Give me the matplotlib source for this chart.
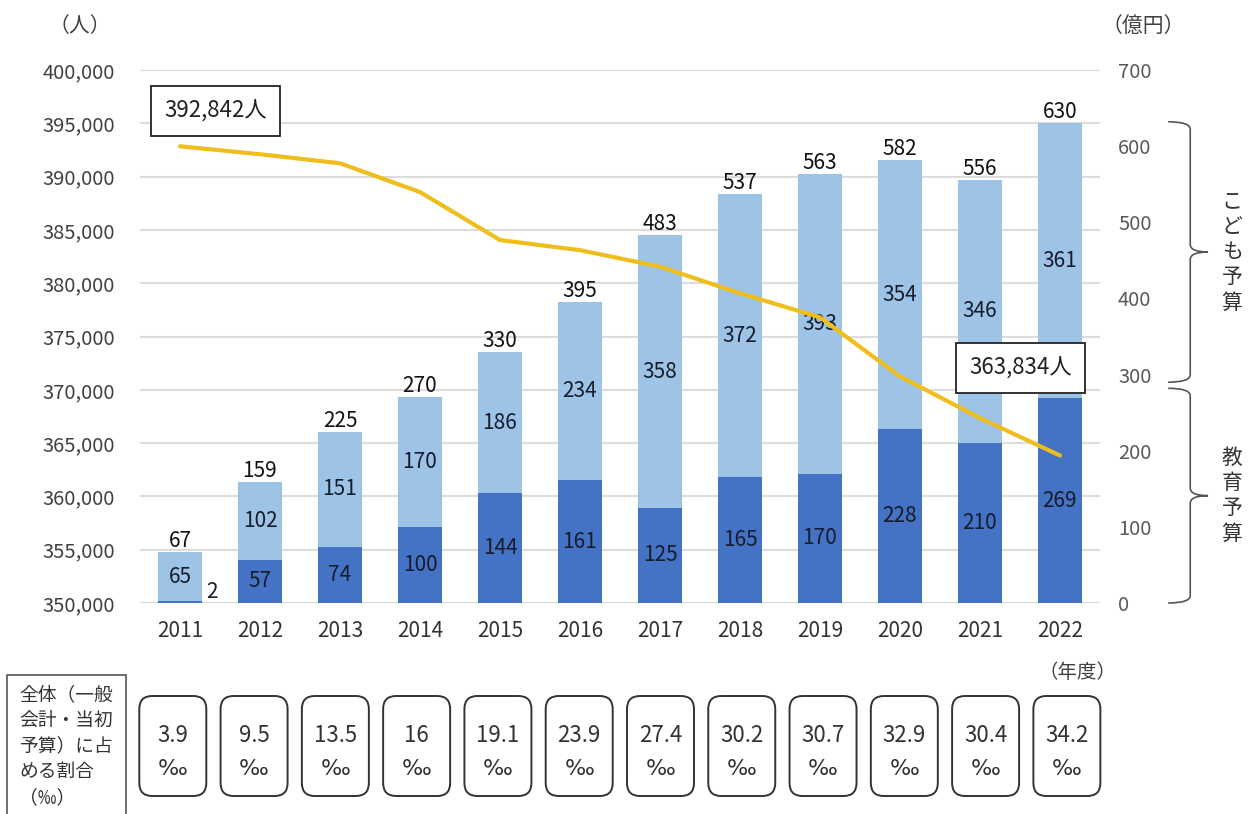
import matplotlib
matplotlib.use("Agg")
import matplotlib.pyplot as plt
from matplotlib.patches import FancyBboxPatch, Rectangle, PathPatch
from matplotlib.path import Path
from matplotlib.transforms import blended_transform_factory

plt.rcParams['font.family'] = ['Noto Sans CJK JP', 'DejaVu Sans']

# data (億円 / 人 / ‰)
years = ['2011', '2012', '2013', '2014', '2015', '2016',
         '2017', '2018', '2019', '2020', '2021', '2022']
education_budget = [2, 57, 74, 100, 144, 161, 125, 165, 170, 228, 210, 269]
children_budget = [65, 102, 151, 170, 186, 234, 358, 372, 393, 354, 346, 361]
total_budget = [67, 159, 225, 270, 330, 395, 483, 537, 563, 582, 556, 630]
children_count = [392842, 392100, 391250, 388550, 384050, 383100,
                  381550, 379050, 376800, 371250, 367350, 363834]
share_permil = ['3.9', '9.5', '13.5', '16', '19.1', '23.9',
                '27.4', '30.2', '30.7', '32.9', '30.4', '34.2']

LIGHT = '#9DC3E6'
DARK = '#4472C4'
GOLD = '#EFBE1C'
GRID = '#DCDCDC'

fig = plt.figure(figsize=(12.5, 8.14), dpi=100)
ax = fig.add_axes([0.112, 0.2592, 0.768, 0.6548])
ax2 = ax.twinx()
ax3 = ax.twinx()

x = list(range(len(years)))

# left axis: population grid
ax.set_xlim(-0.5, 11.5)
ax.set_ylim(350000, 400000)
ax.set_yticks(range(350000, 400001, 5000))
ax.set_yticklabels([f'{v:,}' for v in range(350000, 400001, 5000)])
ax.yaxis.grid(True, color=GRID, lw=1.5)
ax.set_axisbelow(True)
ax.set_xticks(x)
ax.set_xticklabels(years)
ax.tick_params(axis='y', length=0, pad=18, labelsize=14.5, labelcolor='#404040')
ax.tick_params(axis='x', length=0, pad=12, labelsize=15, labelcolor='#333333')
for s in ax.spines.values():
    s.set_visible(False)

# right axis: budget bars
w = 0.56
ax2.bar(x, education_budget, width=w, color=DARK)
ax2.bar(x, children_budget, width=w, bottom=education_budget, color=LIGHT)
ax2.set_ylim(0, 700)
ax2.set_yticks(range(0, 701, 100))
ax2.tick_params(axis='y', length=0, pad=13, labelsize=14.5, labelcolor='#595959')
for s in ax2.spines.values():
    s.set_visible(False)

lbl = '#161c2c'
for i in x:
    e, c, t = education_budget[i], children_budget[i], total_budget[i]
    if e < 20:
        ax2.annotate(str(e), (i + w / 2 + 0.12, 0), xytext=(0, 0),
                     textcoords='offset points', ha='center', va='bottom',
                     fontsize=15, color=lbl)
    else:
        ax2.text(i, e / 2, str(e), ha='center', va='center', fontsize=15, color=lbl)
    ax2.text(i, e + c / 2, str(c), ha='center', va='center', fontsize=15, color=lbl)
    ax2.annotate(str(t), (i, t), xytext=(0, 0), textcoords='offset points',
                 ha='center', va='bottom', fontsize=15, color='#111111')

# population line
ax3.plot(x, children_count, color=GOLD, lw=3, solid_capstyle='round')
ax3.set_ylim(350000, 400000)
ax3.set_yticks([])
for s in ax3.spines.values():
    s.set_visible(False)

box = dict(boxstyle='square,pad=0.6', fc='white', ec='#222222', lw=1.3)
ax3.text(0.44, 396150, f'{children_count[0]:,}人', ha='center', va='center',
         fontsize=16, color='#222222', bbox=box)
ax3.text(10.51, 372050, f'{children_count[-1]:,}人', ha='center', va='center',
         fontsize=16, color='#222222', bbox=box)

# unit labels
fig.text(80 / 1250, 1 - 26 / 814, '（人）', ha='center', va='center', fontsize=15, color='#404040')
fig.text(1143 / 1250, 1 - 26 / 814, '（億円）', ha='center', va='center', fontsize=15, color='#404040')
fig.text(1077 / 1250, 1 - 672 / 814, '（年度）', ha='center', va='center', fontsize=14, color='#404040')

# braces on the right
trans = blended_transform_factory(ax2.transAxes, ax2.transData)


def brace(top, bottom, xh=1.071, xv=1.094, xt=1.1125, d=10):
    mid = (top + bottom) / 2
    verts = [(xh, top), (xv, top), (xv, top - d),
             (xv, mid + d), (xv, mid), (xt, mid),
             (xv, mid), (xv, mid - d),
             (xv, bottom + d), (xv, bottom), (xh, bottom)]
    codes = [Path.MOVETO, Path.CURVE3, Path.CURVE3,
             Path.LINETO, Path.CURVE3, Path.CURVE3,
             Path.CURVE3, Path.CURVE3,
             Path.LINETO, Path.CURVE3, Path.CURVE3]
    p = PathPatch(Path(verts, codes), fc='none', ec='#555555', lw=1.2,
                  transform=trans, clip_on=False)
    ax2.add_artist(p)
    return mid


m1 = brace(632, 290)
m2 = brace(282, 0)
ax2.text(1.1375, m1, '\n'.join('こども予算'), transform=trans, ha='center', va='center',
         fontsize=15, color='#333333', linespacing=1.2)
ax2.text(1.1375, m2, '\n'.join('教育予算'), transform=trans, ha='center', va='center',
         fontsize=15, color='#333333', linespacing=1.2)

# share boxes below the chart (inches, isotropic)
inch = fig.dpi_scale_trans
fig.add_artist(Rectangle((0.07, -0.1), 1.19, 1.49, fc='white', ec='#555555', lw=1.2,
                         transform=inch))
fig.text(0.19, 1.30, '全体（一般\n会計・当初\n予算）に占\nめる割合\n（‰）', transform=inch,
         ha='left', va='top', fontsize=13.5, color='#333333', linespacing=1.3)

for i, s in enumerate(share_permil):
    xb = -0.09 + 1.016 * i
    cx = ax.transData.transform((xb, 0))[0] / fig.dpi
    fig.add_artist(FancyBboxPatch((cx - 0.335, 0.18), 0.67, 1.0,
                                  boxstyle='round,pad=0,rounding_size=0.13',
                                  fc='white', ec='#333333', lw=1.4, transform=inch))
    fig.text(cx, 0.78, s, transform=inch, ha='center', va='center', fontsize=16, color='#333333')
    fig.text(cx, 0.45, '‰', transform=inch, ha='center', va='center', fontsize=16,
             color='#333333', family=['DejaVu Sans'])

fig.savefig('out.png', dpi=100)
